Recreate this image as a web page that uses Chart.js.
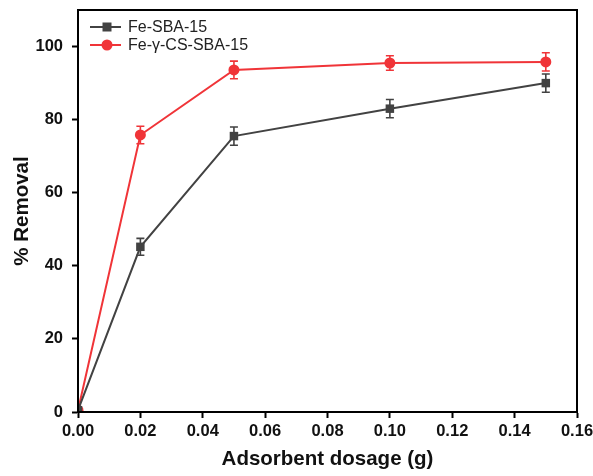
<!DOCTYPE html>
<html>
<head>
<meta charset="utf-8">
<script src="https://cdn.jsdelivr.net/npm/chart.js@4/dist/chart.umd.min.js"></script>
<style>
  html, body { margin: 0; padding: 0; background: #fff; }
  #wrap { width: 593px; height: 476px; position: relative; }
</style>
</head>
<body>
<div id="wrap"><canvas id="removal_chart"></canvas></div>
<script>
// Adsorbent dosage (g) on the x axis
const dosage = [0, 0.02, 0.05, 0.10, 0.15];

// % Removal for both adsorbents
const feSba = [0.5, 45.2, 75.5, 83.0, 90.0];
const feSbaErr = [0, 2.3, 2.5, 2.5, 2.5];
const feCsSba = [0.5, 75.8, 93.6, 95.5, 95.8];
const feCsSbaErr = [0, 2.4, 2.4, 2.0, 2.5];

const seriesNames = ['Fe-SBA-15', 'Fe-\u03B3-CS-SBA-15'];
const xTicks = [0, 0.02, 0.04, 0.06, 0.08, 0.10, 0.12, 0.14, 0.16];
const yTicks = [0, 20, 40, 60, 80, 100];

const GREY = '#424242';
const RED = '#f03438';
const FONT = "'Liberation Sans', Arial, sans-serif";

const toPoints = (ys) => dosage.map((x, i) => ({ x: x, y: ys[i] }));

// Error bars, frame and legend drawn on top of the chart
const extrasPlugin = {
  id: 'extras',
  afterDatasetsDraw(chart) {
    const ctx = chart.ctx;
    const xs = chart.scales.x;
    const ys = chart.scales.y;
    const errs = [feSbaErr, feCsSbaErr];

    ctx.save();
    chart.data.datasets.forEach((ds, d) => {
      ctx.strokeStyle = ds.borderColor;
      ctx.lineWidth = 1.6;
      ds.data.forEach((p, i) => {
        const e = errs[d][i];
        if (!e) return;
        const px = xs.getPixelForValue(p.x);
        const top = ys.getPixelForValue(p.y + e);
        const bot = ys.getPixelForValue(p.y - e);
        ctx.beginPath();
        ctx.moveTo(px, top); ctx.lineTo(px, bot);
        ctx.moveTo(px - 4, top); ctx.lineTo(px + 4, top);
        ctx.moveTo(px - 4, bot); ctx.lineTo(px + 4, bot);
        ctx.stroke();
      });
    });

    // box round the plot area
    const a = chart.chartArea;
    ctx.strokeStyle = '#000';
    ctx.lineWidth = 2;
    ctx.strokeRect(a.left, a.top, a.right - a.left, a.bottom - a.top);

    // legend
    ctx.font = '16px ' + FONT;
    ctx.textBaseline = 'middle';
    chart.data.datasets.forEach((ds, d) => {
      const y = 27 + d * 18;
      ctx.strokeStyle = ds.borderColor;
      ctx.lineWidth = 2;
      ctx.beginPath();
      ctx.moveTo(90, y); ctx.lineTo(121, y);
      ctx.stroke();
      ctx.fillStyle = ds.borderColor;
      if (d === 0) {
        ctx.fillRect(107 - 4.5, y - 4.5, 9, 9);
      } else {
        ctx.beginPath();
        ctx.arc(107, y, 5.5, 0, Math.PI * 2);
        ctx.fill();
      }
      ctx.fillStyle = '#222';
      ctx.fillText(ds.label, 128, y + 1);
    });
    ctx.restore();
  }
};

const removal_chart = document.getElementById('removal_chart');

let chart = new Chart(removal_chart, {
  type: 'line',
  data: {
    datasets: [
      {
        label: seriesNames[0],
        data: toPoints(feSba),
        borderColor: GREY,
        backgroundColor: GREY,
        borderWidth: 2,
        pointStyle: 'rect',
        pointRadius: 6,
        pointBorderWidth: 0
      },
      {
        label: seriesNames[1],
        data: toPoints(feCsSba),
        borderColor: RED,
        backgroundColor: RED,
        borderWidth: 2,
        pointStyle: 'circle',
        pointRadius: 5.5,
        pointBorderWidth: 0
      }
    ]
  },
  options: {
    responsive: true,
    maintainAspectRatio: false,
    animation: false,
    tension: 0,
    layout: {
      padding: { top: 10, right: 16, left: 0, bottom: 0 }
    },
    plugins: {
      legend: { display: false },
      tooltip: { enabled: false }
    },
    scales: {
      x: {
        type: 'linear',
        min: 0,
        max: 0.16,
        afterBuildTicks: (axis) => { axis.ticks = xTicks.map(v => ({ value: v })); },
        afterFit: (axis) => {
          axis.height = 64;
          axis.paddingLeft = 0;
          axis.paddingRight = 0;
        },
        grid: { drawOnChartArea: false, drawTicks: true, tickLength: 6, color: '#000', tickWidth: 2 },
        border: { display: true, color: '#000', width: 2 },
        ticks: {
          color: '#111',
          padding: 4,
          font: { family: FONT, size: 16.5, weight: 'bold' },
          callback: (v) => Number(v).toFixed(2)
        },
        title: {
          display: true,
          text: 'Adsorbent dosage (g)',
          color: '#111',
          padding: { top: 0, bottom: 6 },
          font: { family: FONT, size: 20.5, weight: 'bold', lineHeight: 1 }
        }
      },
      y: {
        min: 0,
        max: 110,
        afterBuildTicks: (axis) => { axis.ticks = yTicks.map(v => ({ value: v })); },
        afterFit: (axis) => {
          axis.width = 78;
          axis.paddingTop = 0;
          axis.paddingBottom = 0;
        },
        grid: { drawOnChartArea: false, drawTicks: true, tickLength: 6, color: '#000', tickWidth: 2 },
        border: { display: true, color: '#000', width: 2 },
        ticks: {
          color: '#111',
          padding: 9,
          font: { family: FONT, size: 16.5, weight: 'bold' }
        },
        title: {
          display: true,
          text: '% Removal',
          color: '#111',
          padding: { top: 12, bottom: 0 },
          font: { family: FONT, size: 20.5, weight: 'bold', lineHeight: 1 }
        }
      }
    }
  },
  plugins: [extrasPlugin]
});
</script>
</body>
</html>
